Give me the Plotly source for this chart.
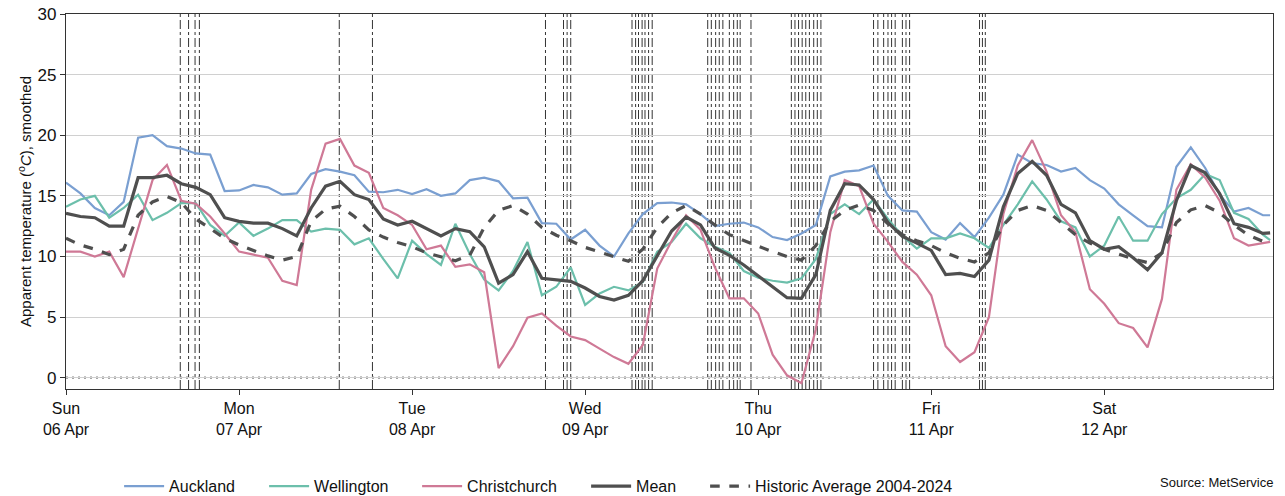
import plotly.graph_objects as go

# time in hours since Sun 06 Apr 00:00
hours = list(range(0, 168, 2)) + [167]

auckland = [16.1, 15.2, 14.0, 13.4, 14.5, 19.8, 20.0, 19.1, 18.9, 18.5, 18.4, 15.4,
            15.45, 15.9, 15.7, 15.1, 15.2, 16.8, 17.2, 17.0, 16.7, 15.35, 15.3, 15.5,
            15.15, 15.55, 15.0, 15.2, 16.3, 16.5, 16.2, 14.8, 14.85, 12.75, 12.7, 11.4,
            12.2, 10.9, 10.0, 11.9, 13.5, 14.4, 14.45, 14.3, 13.5, 12.5, 12.7, 12.8,
            12.4, 11.6, 11.35, 11.9, 12.6, 16.6, 17.0, 17.1, 17.5, 15.0, 13.8, 13.7,
            12.0, 11.4, 12.75, 11.6, 13.2, 15.1, 18.4, 17.7, 17.55, 17.0, 17.3, 16.3,
            15.6, 14.3, 13.4, 12.5, 12.4, 17.4, 19.0, 17.3, 15.1, 13.7, 14.0, 13.4,
            13.4]

wellington = [14.1, 14.7, 15.0, 13.2, 14.0, 15.1, 13.0, 13.6, 14.4, 14.4, 12.6, 11.7,
              12.8, 11.7, 12.3, 13.0, 13.0, 12.05, 12.3, 12.2, 11.0, 11.5, 9.8, 8.2,
              11.3, 10.2, 9.3, 12.7, 10.2, 8.1, 7.2, 8.8, 11.2, 6.8, 7.5, 9.1,
              6.0, 6.95, 7.5, 7.2, 7.9, 10.4, 11.2, 12.7, 11.5, 10.8, 10.3, 8.8,
              8.25, 8.0, 7.85, 8.2, 9.8, 13.5, 14.3, 13.5, 14.7, 13.1, 11.7, 10.65,
              11.5, 11.5, 11.9, 11.5, 10.7, 12.6, 14.3, 16.2, 14.7, 12.9, 12.4, 10.0,
              10.9, 13.3, 11.3, 11.3, 13.5, 14.8, 15.5, 16.8, 16.3, 13.6, 13.1, 11.8,
              11.35]

christchurch = [10.4, 10.4, 10.0, 10.4, 8.3, 12.2, 16.3, 17.55, 14.6, 14.35, 13.3, 11.9,
                10.4, 10.15, 9.9, 8.0, 7.65, 15.5, 19.3, 19.7, 17.5, 16.9, 14.0, 13.4,
                12.6, 10.6, 10.9, 9.15, 9.35, 8.7, 0.8, 2.6, 4.95, 5.3, 4.3, 3.4,
                3.1, 2.4, 1.7, 1.15, 2.7, 9.0, 11.3, 13.4, 12.2, 9.1, 6.55, 6.55,
                5.3, 1.9, 0.2, -0.45, 4.0, 12.0, 16.3, 15.8, 12.7, 11.2, 9.55, 8.5,
                6.8, 2.6, 1.3, 2.1, 5.0, 13.5, 17.5, 19.6, 17.0, 13.4, 12.0, 7.3,
                6.1, 4.5, 4.1, 2.5, 6.5, 15.5, 17.6, 16.5, 14.6, 11.5, 10.9, 11.1,
                11.2]

mean = [13.55, 13.3, 13.2, 12.5, 12.5, 16.5, 16.5, 16.7, 16.0, 15.7, 15.1, 13.2,
        12.9, 12.75, 12.75, 12.3, 11.7, 14.0, 15.8, 16.2, 15.1, 14.7, 13.1, 12.6,
        12.9, 12.3, 11.7, 12.3, 12.05, 10.8, 7.8, 8.5, 10.4, 8.2, 8.05, 7.95,
        7.4, 6.7, 6.4, 6.8, 8.0, 10.1, 12.1, 13.25, 12.6, 10.7, 10.1, 9.3,
        8.4, 7.5, 6.6, 6.55, 8.5, 13.8, 16.0, 15.9, 14.7, 12.8, 11.65, 11.1,
        10.5, 8.5, 8.6, 8.35, 9.7, 14.1, 16.85, 17.85, 16.7, 14.3, 13.6, 11.3,
        10.6, 10.8, 9.9, 8.9, 10.3, 14.6, 17.5, 16.9, 15.2, 12.7, 12.4, 11.9,
        11.95]

historic = [11.5, 10.95, 10.6, 10.15, 10.6, 13.4, 14.5, 14.95, 14.45, 13.1, 12.3, 11.5,
            10.95, 10.5, 10.05, 9.7, 10.0, 12.9, 13.9, 14.15, 13.3, 12.2, 11.6, 11.15,
            10.8, 10.3, 10.0, 9.65, 10.1, 12.4, 13.8, 14.2, 13.5, 12.4, 11.75, 11.3,
            10.75, 10.35, 10.0, 9.6, 10.6, 12.4, 13.6, 14.2, 13.5, 12.6, 11.8, 11.3,
            10.85, 10.4, 10.0, 9.7, 10.9, 12.9, 13.8, 14.25, 13.8, 12.7, 11.8, 11.3,
            10.9, 10.3, 9.85, 9.55, 10.3, 12.6, 13.8, 14.2, 13.8, 12.8, 11.8, 11.1,
            10.6, 10.2, 9.8, 9.5, 10.3, 12.8, 13.85, 14.2, 13.6, 12.6, 11.75, 11.25,
            11.2]

event_hours = [15.85, 17.0, 17.9, 18.5, 37.9, 42.5, 66.5, 69.0, 69.5, 70.0,
               78.5, 79.0, 79.4, 79.9, 80.3, 80.8, 81.3,
               89.0, 89.5, 90.1, 90.6, 91.1, 92.0, 92.6, 93.1, 93.5, 95.0,
               100.6, 101.1, 101.6, 102.1, 102.6, 103.1, 103.7, 104.2, 104.7,
               112.0, 112.6, 113.4, 114.0, 114.5, 115.0, 116.0, 116.5, 117.0,
               126.7, 127.1, 127.5]

day_ticks = [0, 24, 48, 72, 96, 120, 144]
day_labels = ["Sun<br>06 Apr", "Mon<br>07 Apr", "Tue<br>08 Apr", "Wed<br>09 Apr",
              "Thu<br>10 Apr", "Fri<br>11 Apr", "Sat<br>12 Apr"]

FONT = "Liberation Sans, Arial, sans-serif"

fig = go.Figure()
series = [
    ("Auckland", auckland, "#7a9fd1", 2.2, "solid", 90),
    ("Wellington", wellington, "#6cbfab", 2.2, "solid", 98),
    ("Christchurch", christchurch, "#cf7996", 2.2, "solid", 114),
    ("Mean", mean, "#4f4f4f", 3.2, "solid", 64),
    ("Historic Average 2004-2024", historic, "#4f4f4f", 3.2, "dash", 220),
]
for name, vals, col, w, dash, lw in series:
    fig.add_trace(go.Scatter(x=hours, y=vals, mode="lines", name=name, legendwidth=lw,
                             line=dict(color=col, width=w, dash=dash)))

shapes = []
for h in event_hours:
    shapes.append(dict(type="line", xref="x", yref="paper", x0=h, x1=h, y0=0, y1=1,
                       line=dict(color="#333333", width=1, dash="dashdot"), layer="below"))
shapes.append(dict(type="line", xref="paper", yref="y", x0=0, x1=1, y0=0, y1=0,
                   line=dict(color="#888888", width=2.2, dash="2px,4px"), layer="below"))

fig.update_layout(
    width=1285, height=496,
    margin=dict(l=66, r=12, t=14, b=107, autoexpand=False),
    paper_bgcolor="white", plot_bgcolor="white",
    font=dict(family=FONT, size=16, color="#111111"),
    shapes=shapes,
    showlegend=True,
    legend=dict(orientation="h", x=0.044, xanchor="left", y=-0.259, yanchor="middle",
                font=dict(size=16, family=FONT), itemwidth=40, tracegroupgap=0,
                bgcolor="rgba(0,0,0,0)"),
    annotations=[dict(text="Source: MetService", xref="paper", yref="paper",
                      x=1.002, y=-0.25, xanchor="right", yanchor="middle",
                      showarrow=False, font=dict(size=13, family=FONT))],
)
fig.update_xaxes(range=[0, 167.4], tickvals=day_ticks, ticktext=day_labels,
                 showgrid=False, zeroline=False, showline=True, mirror=True,
                 linecolor="#333333", linewidth=1.2, ticks="outside", ticklen=5,
                 tickcolor="#333333", tickfont=dict(size=16), automargin=False)
fig.update_yaxes(range=[-0.93, 30], tickvals=[0, 5, 10, 15, 20, 25, 30],
                 showgrid=True, gridcolor="#d0d0d0", gridwidth=1, zeroline=False,
                 showline=True, mirror=True, linecolor="#333333", linewidth=1.2,
                 ticks="outside", ticklen=5, tickcolor="#333333", tickfont=dict(size=17),
                 automargin=False,
                 title=dict(text="Apparent temperature (<sup>o</sup><i>C</i>), smoothed",
                            font=dict(size=15), standoff=2))

fig.write_html("out.html", config={"displayModeBar": False},
               post_script="document.body.style.margin='0px';")
